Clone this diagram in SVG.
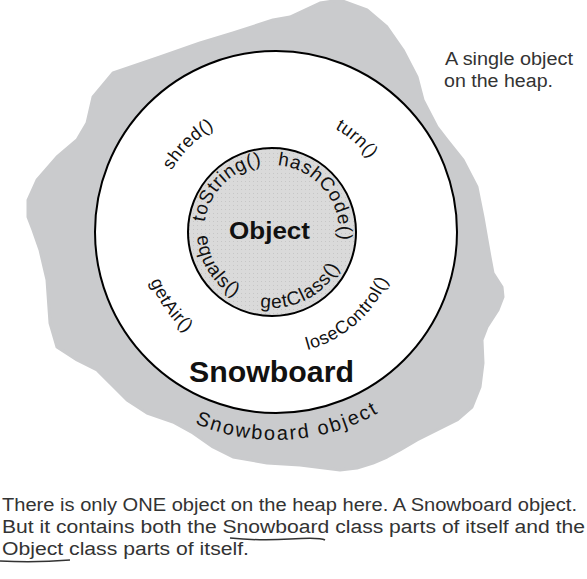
<svg xmlns="http://www.w3.org/2000/svg" width="587" height="579" viewBox="0 0 587 579">
<style>
.lbl{font-family:"Liberation Sans",Arial,sans-serif;font-size:18px;fill:#111;letter-spacing:0.6px}
.in{font-size:19px;letter-spacing:0.9px}
.big{font-family:"Liberation Sans",Arial,sans-serif;font-weight:bold;fill:#111}
.hand{font-family:"Liberation Sans Narrow","Liberation Sans",sans-serif;font-size:18px;fill:#333}
.ring{stroke:#000;stroke-width:2}
</style>
<defs>
<pattern id="dots" width="4" height="4" patternUnits="userSpaceOnUse">
<rect width="4" height="4" fill="#dadada"/>
<rect x="1" y="1" width="1" height="1" fill="#c6c6c6"/>
</pattern>
<path id="pToString" d="M206.3,249.6 A68,68 0 0 1 289.6,166.3"/>
<path id="pHash" d="M261.5,165.8 A67,67 0 0 1 334.6,256.0"/>
<path id="pEquals" d="M205.8,196.8 A75,75 0 0 0 274.6,307.0"/>
<path id="pGetClass" d="M230.6,295.7 A76,76 0 0 0 347.9,236.0"/>
<path id="pShred" d="M159.1,263.3 A121,121 0 0 1 307.3,115.1"/>
<path id="pTurn" d="M237.3,119.5 A119,119 0 0 1 392.8,254.7"/>
<path id="pGetAir" d="M153.6,174.9 A135,135 0 0 0 287.8,366.5"/>
<path id="pLose" d="M236.3,347.4 A122,122 0 0 0 395.8,208.7"/>
<path id="pSbObj" d="M102.5,346.8 A208,208 0 0 0 462.1,324.8"/>
</defs>
<g id="heap">
<path fill="#cacbcd" stroke="#cacbcd" stroke-width="3" stroke-linejoin="round" d="M200,43 L233,33 L273,20 L290,17 L320,3 L340,0 L367,10 L387,27 L403,50 L417,77 L423,100 L437,127 L447,140 L463,160 L477,187 L483,217 L487,240 L490,257 L493,273 L502,287 L503,297 L498,310 L487,327 L482,340 L483,363 L480,387 L472,407 L457,420 L437,430 L417,440 L400,450 L387,457 L373,463 L357,468 L340,470 L300,465 L267,463 L233,457 L213,447 L193,433 L173,422 L147,413 L127,400 L110,383 L97,370 L77,360 L57,347 L50,323 L47,280 L40,250 L33,230 L28,217 L28,200 L37,180 L57,157 L77,140 L87,123 L93,97 L113,73 L160,57 Z"/>
<text class="lbl" style="font-size:20px;letter-spacing:2px"><textPath href="#pSbObj" startOffset="50%" text-anchor="middle">Snowboard object</textPath></text>
</g>
<g id="snowboard">
<circle class="ring" cx="276" cy="232" r="181" fill="#fff"/>
<text class="big" x="189" y="382" font-size="29" textLength="165" lengthAdjust="spacingAndGlyphs">Snowboard</text>
<text class="lbl"><textPath href="#pShred" startOffset="50%" text-anchor="middle">shred()</textPath></text>
<text class="lbl"><textPath href="#pTurn" startOffset="50%" text-anchor="middle">turn()</textPath></text>
<text class="lbl"><textPath href="#pGetAir" startOffset="50%" text-anchor="middle">getAir()</textPath></text>
<text class="lbl"><textPath href="#pLose" startOffset="50%" text-anchor="middle">loseControl()</textPath></text>
</g>
<g id="object">
<circle class="ring" cx="272" cy="232" r="84" fill="url(#dots)"/>
<text class="big" x="229" y="239" font-size="24" textLength="81" lengthAdjust="spacingAndGlyphs">Object</text>
<text class="lbl in"><textPath href="#pToString" startOffset="50%" text-anchor="middle">toString()</textPath></text>
<text class="lbl in"><textPath href="#pHash" startOffset="50%" text-anchor="middle">hashCode()</textPath></text>
<text class="lbl in"><textPath href="#pEquals" startOffset="50%" text-anchor="middle">equals()</textPath></text>
<text class="lbl in"><textPath href="#pGetClass" startOffset="50%" text-anchor="middle">getClass()</textPath></text>
</g>
<g id="connectors"/>
<g id="notes">
<text class="hand" x="445" y="65" textLength="128" lengthAdjust="spacingAndGlyphs">A single object</text>
<text class="hand" x="444" y="87" textLength="109" lengthAdjust="spacingAndGlyphs">on the heap.</text>
<text class="hand" x="2" y="511" textLength="575" lengthAdjust="spacingAndGlyphs">There is only ONE object on the heap here. A Snowboard object.</text>
<text class="hand" x="2" y="533" textLength="583" lengthAdjust="spacingAndGlyphs">But it contains both the Snowboard class parts of itself and the</text>
<text class="hand" x="2" y="555" textLength="247" lengthAdjust="spacingAndGlyphs">Object class parts of itself.</text>
<path d="M230,538 Q260,541 290,539 T325,540" fill="none" stroke="#333" stroke-width="1.5"/>
<path d="M0,561 Q35,563 70,560" fill="none" stroke="#333" stroke-width="1.5"/>
</g>
</svg>
